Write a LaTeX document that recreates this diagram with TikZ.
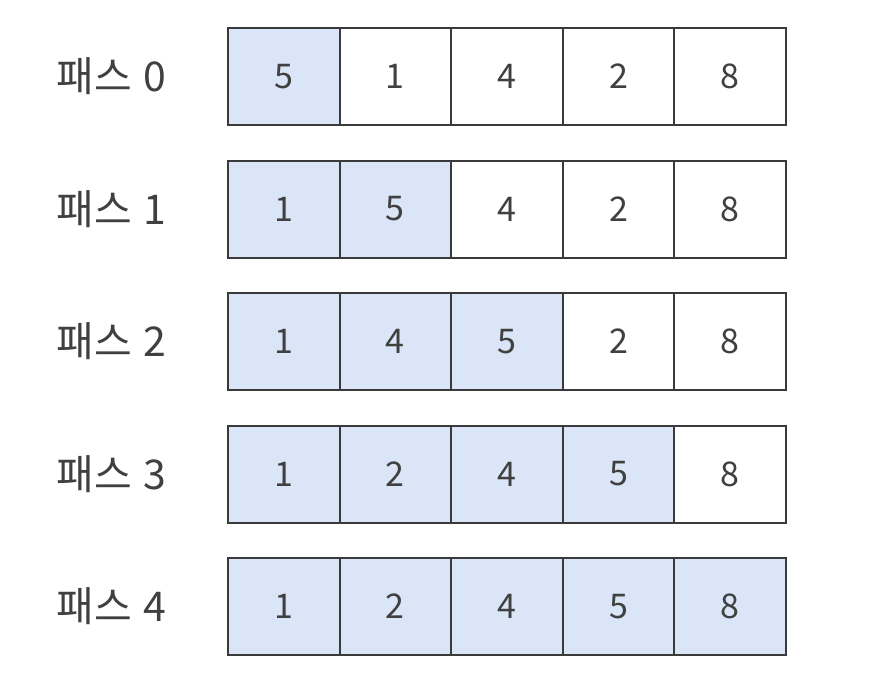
\documentclass[tikz,border=0pt]{standalone}
\usepackage{fontspec}
\newfontfamily\kofont{Noto Sans CJK KR}
\usepackage{xcolor}
\usepackage{tikz}
\usetikzlibrary{positioning}
\definecolor{cellblue}{HTML}{DAE6F7}
\definecolor{edgegray}{HTML}{3A3A3A}
\definecolor{textgray}{HTML}{404040}

\begin{document}
\begin{tikzpicture}[x=0.5pt, y=-0.5pt, every node/.style={font=\kofont\fontsize{17}{20}\selectfont, text=textgray},
    cell/.style={draw=edgegray, line width=1pt, minimum width=55.8pt, minimum height=48.5pt, inner sep=0pt},
    passlabel/.style={anchor=west, inner sep=0pt, font=\kofont\fontsize{20.5}{24}\selectfont}]
    \useasboundingbox (0,0) rectangle (874,692);
    % one row per pass, sorted part shaded
    \foreach \r/\vals in {0/{5,1,4,2,8}, 1/{1,5,4,2,8}, 2/{1,4,5,2,8}, 3/{1,2,4,5,8}, 4/{1,2,4,5,8}} {
        \node[passlabel] (pass\r) at (56, 76.5+132.5*\r) {패스\hspace{6pt}\r};
        \foreach \v [count=\c from 0] in \vals {
            \ifnum\c>\r \def\cellfill{white}\else \def\cellfill{cellblue}\fi
            \node[cell, fill=\cellfill] (c\r-\c) at (283.8+111.6*\c, 76.5+132.5*\r) {\v};
        }
    }
\end{tikzpicture}
\end{document}
